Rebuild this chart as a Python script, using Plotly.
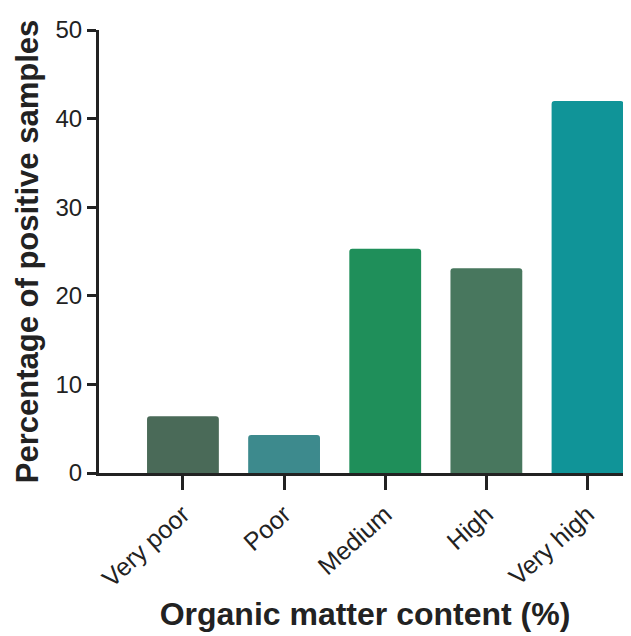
import plotly.graph_objects as go

categories = ["Very poor", "Poor", "Medium", "High", "Very high"]
percent_positive = [6.4, 4.3, 25.3, 23.1, 42.0]
bar_colors = ["#4a6a58", "#3d8a8d", "#1f8f5a", "#48775e", "#109498"]

fig = go.Figure(
    go.Bar(
        x=categories,
        y=percent_positive,
        marker=dict(color=bar_colors, line=dict(width=0), cornerradius=3),
        width=0.71,
    )
)

# page body adds 8px margin, so figure is sized to fit inside the window
fig.update_layout(
    width=623,
    height=628,
    margin=dict(l=91, r=0, t=22, b=163),
    plot_bgcolor="white",
    paper_bgcolor="white",
    font=dict(family="Liberation Sans, Arial, sans-serif", color="#222222"),
    showlegend=False,
)

fig.update_xaxes(
    range=[-0.83, 4.43],
    automargin=False,
    showline=True,
    linecolor="#222222",
    linewidth=3,
    ticks="outside",
    ticklen=14,
    tickwidth=3,
    tickcolor="#222222",
    tickangle=-42,
    tickfont=dict(size=25),
    title=dict(text="<b>Organic matter content (%)</b>", font=dict(size=32), standoff=12),
    showgrid=False,
)

fig.update_yaxes(
    range=[0, 50],
    dtick=10,
    automargin=False,
    showline=True,
    linecolor="#222222",
    linewidth=3,
    ticks="outside",
    ticklen=9,
    tickwidth=3,
    tickcolor="#222222",
    tickfont=dict(size=24),
    title=dict(text="<b>Percentage of positive samples</b>", font=dict(size=31), standoff=8),
    showgrid=False,
    zeroline=False,
)

fig.write_html("out.html")
